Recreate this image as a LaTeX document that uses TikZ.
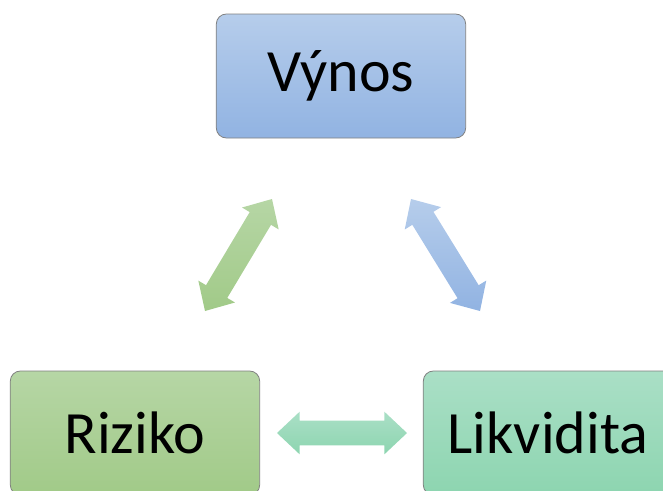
\documentclass[tikz,border=0pt]{standalone}
\usepackage{fontspec}
\setmainfont{Carlito}
\usepackage{tikz}
\usetikzlibrary{calc,positioning}

\definecolor{blueTop}{HTML}{B6CDEB}
\definecolor{blueBot}{HTML}{91B3E2}
\definecolor{greenTop}{HTML}{B6D6A5}
\definecolor{greenBot}{HTML}{A1CA88}
\definecolor{mintTop}{HTML}{AADFC6}
\definecolor{mintBot}{HTML}{8DD5B0}
\definecolor{rim}{HTML}{808080}

\tikzset{
  pojem/.style={draw=rim, line width=0.6pt, rounded corners=7.5pt,
    minimum width=187pt, minimum height=93pt, inner sep=0pt,
    font=\fontsize{45}{54}\selectfont},
}

% obousmerna blokova sipka mezi dvema body
\newcommand{\blokSipka}[4]{%
  \path[top color=#3, bottom color=#4]
    ($(#1)!17pt!(#2)$) coordinate (p)
    ($(#2)!17pt!(#1)$) coordinate (q)
    (#1) -- ($(p)!16pt!90:(#2)$) -- ($(p)!9.3pt!90:(#2)$)
    -- ($(q)!9.3pt!-90:(#1)$) -- ($(q)!16pt!-90:(#1)$) -- (#2)
    -- ($(q)!16pt!90:(#1)$) -- ($(q)!9.3pt!90:(#1)$)
    -- ($(p)!9.3pt!-90:(#2)$) -- ($(p)!16pt!-90:(#2)$) -- cycle;
}

\begin{document}
\begin{tikzpicture}[x=0.75pt, y=-0.75pt]
\useasboundingbox (0,0) rectangle (663,490);
\clip (0,0) rectangle (663,490);
% pojmy
\node[pojem, top color=blueTop, bottom color=blueBot] (vynos) at (341,76) {Výnos};
\node[pojem, top color=greenTop, bottom color=greenBot] (riziko) at (135,433) {Riziko};
\node[pojem, top color=mintTop, bottom color=mintBot] (likvidita) at (548,433) {Likvidita};
% konce sipek
\coordinate (vr1) at (272,199); \coordinate (vr2) at (205,311);
\coordinate (vl1) at (411,199); \coordinate (vl2) at (480,311);
\coordinate (rl1) at (277,433); \coordinate (rl2) at (407,433);
% sipky
\blokSipka{vr1}{vr2}{greenTop}{greenBot}
\blokSipka{vl1}{vl2}{blueTop}{blueBot}
\blokSipka{rl1}{rl2}{mintTop}{mintBot}
\end{tikzpicture}
\end{document}
